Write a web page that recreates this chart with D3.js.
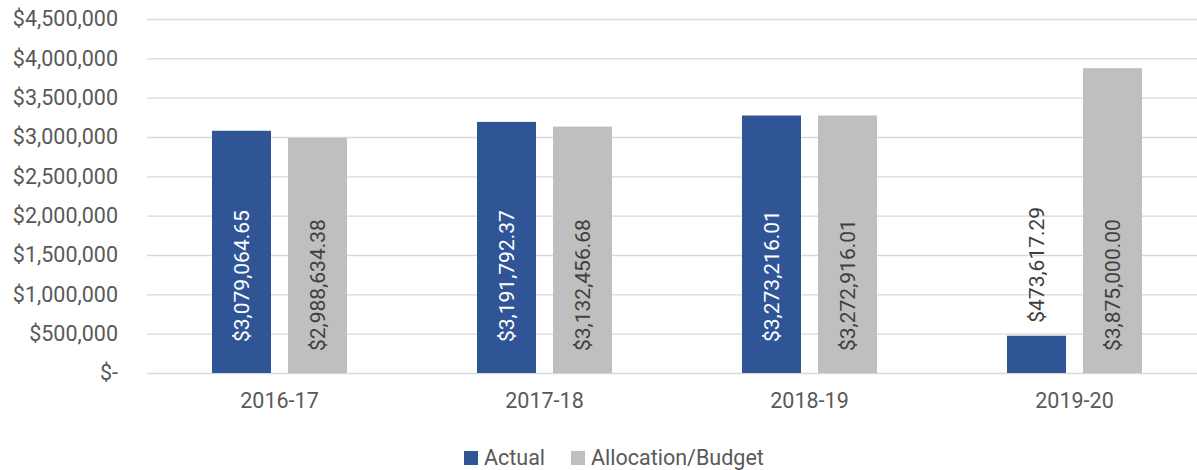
<!DOCTYPE html>
<html><head><meta charset="utf-8">
<script src="https://cdn.jsdelivr.net/npm/d3@7"></script>
<style>body{margin:0;background:#fff}svg{display:block}text{font-family:Roboto,"Open Sans",sans-serif}</style>
</head><body>
<svg id="chart" width="1197" height="470"></svg>
<script>
const categories = ["2016-17", "2017-18", "2018-19", "2019-20"];
const seriesNames = ["Actual", "Allocation/Budget"];
const actual = [3079064.65, 3191792.37, 3273216.01, 473617.29];
const budget = [2988634.38, 3132456.68, 3272916.01, 3875000.00];
const yTicks = [0, 500000, 1000000, 1500000, 2000000, 2500000, 3000000, 3500000, 4000000, 4500000];
const colors = ["#2F5597", "#BFBFBF"];

(function(){
const svg = d3.select("#chart");
const mLeft = 147, mRight = 1207, mTop = 19, mBottom = 373;

const x = d3.scaleBand().domain(categories).range([mLeft, mRight]).paddingInner(0).paddingOuter(0);
const y = d3.scaleLinear().domain([0, 4500000]).range([mBottom, mTop]);
const barW = 59, gap = 17;
const x1 = d3.scaleOrdinal().domain(seriesNames).range([-(gap/2 + barW), gap/2]);

const fmtAxis = v => v === 0 ? "$-" : "$" + d3.format(",")(v);
const fmtLabel = v => "$" + d3.format(",.2f")(v);

const yAxis = d3.axisLeft(y).tickValues(yTicks).tickSize(-(mRight - mLeft)).tickFormat(fmtAxis).tickPadding(29);
const ga = svg.append("g").attr("transform", `translate(${mLeft},0)`).call(yAxis);
ga.select(".domain").remove();
ga.selectAll(".tick line").attr("stroke", "#D9D9D9").attr("stroke-width", 1.4);
ga.selectAll(".tick text").attr("fill", "#595959").style("font-size", "21.5px").style("font-family", "Roboto, sans-serif");

const xAxis = d3.axisBottom(x).tickSize(0).tickPadding(20);
const gx = svg.append("g").attr("transform", `translate(0,${mBottom})`).call(xAxis);
gx.select(".domain").remove();
gx.selectAll(".tick text").attr("fill", "#595959").style("font-size", "21.5px").style("font-family", "Roboto, sans-serif");

const rows = categories.map((c, i) => ({cat: c, vals: [
  {name: seriesNames[0], v: actual[i], color: colors[0]},
  {name: seriesNames[1], v: budget[i], color: colors[1]}
]}));

const groups = svg.append("g").selectAll("g").data(rows).join("g")
  .attr("transform", d => `translate(${x(d.cat) + x.bandwidth()/2},0)`);

groups.selectAll("rect").data(d => d.vals).join("rect")
  .attr("x", d => x1(d.name))
  .attr("width", barW)
  .attr("y", d => y(d.v))
  .attr("height", d => mBottom - y(d.v))
  .attr("fill", d => d.color);

groups.selectAll("text.lbl").data(d => d.vals).join("text")
  .attr("class", "lbl")
  .each(function(d) {
    const cx = x1(d.name) + barW/2;
    const h = mBottom - y(d.v);
    const inside = h > 160;
    const yy = inside ? mBottom - (d.name === "Actual" ? 31 : 22) : y(d.v) - 13;
    d3.select(this)
      .attr("transform", `translate(${cx + 7},${yy}) rotate(-90)`)
      .attr("text-anchor", "start")
      .attr("fill", inside && d.name === "Actual" ? "#ffffff" : "#404040")
      .style("font-size", "21px")
      .text(fmtLabel(d.v));
  });

const legend = svg.append("g");
const legendX = [464, 571];
seriesNames.forEach((n, i) => {
  legend.append("rect").attr("x", legendX[i]).attr("y", 451).attr("width", 14).attr("height", 14).attr("fill", colors[i]);
  legend.append("text").attr("x", legendX[i] + 20).attr("y", 465).attr("fill", "#595959")
    .style("font-size", "21.5px").text(n);
});
})();
</script>
</body></html>
